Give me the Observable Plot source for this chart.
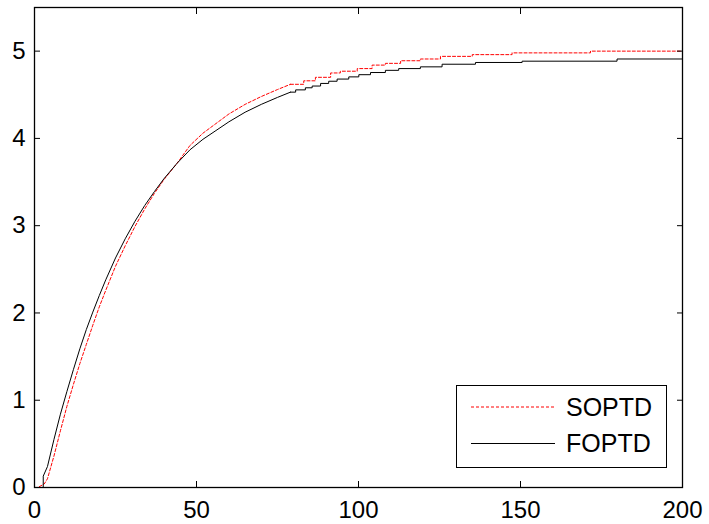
<!DOCTYPE html>
<html>
<head>
<meta charset="utf-8">
<script src="https://cdn.jsdelivr.net/npm/d3@7"></script>
<script src="https://cdn.jsdelivr.net/npm/@observablehq/plot@0.6"></script>
<style>
  body { margin: 0; background: #fff; }
  #wrap { position: relative; width: 709px; height: 524px; background: #fff; }
  #legend {
    position: absolute; left: 456px; top: 385px; width: 209px; height: 81px;
    border: 1px solid #000; background: #fff;
    font-family: "Liberation Sans", Arial, sans-serif; font-size: 25px; color: #000;
  }
  #legend .row { position: absolute; left: 0; width: 209px; height: 30px; }
  #legend svg { position: absolute; left: 14px; top: 0; }
  #legend span { position: absolute; left: 109px; top: 0; line-height: 30px; }
</style>
</head>
<body>
<div id="wrap">
  <div id="legend">
    <div class="row" style="top:6px">
      <svg width="84" height="30"><line x1="0" x2="84" y1="15" y2="15" stroke="#ff0000" stroke-width="1.2" stroke-dasharray="3,2"></line></svg>
      <span>SOPTD</span>
    </div>
    <div class="row" style="top:42px">
      <svg width="84" height="30"><line x1="0" x2="84" y1="15.5" y2="15.5" stroke="#000" stroke-width="1"></line></svg>
      <span>FOPTD</span>
    </div>
  </div>
</div>
<script>
// Tick values
const xTicks = [0, 50, 100, 150, 200];
const yTicks = [0, 1, 2, 3, 4, 5];

// FOPTD (black, solid) — rising part
const fopdtEarlyT = [0, 2.7, 2.7, 4, 6, 8, 10, 12, 14, 16, 18, 20, 22, 25, 28, 31, 34, 37, 40, 44, 48, 52, 56, 60, 65, 70, 75, 79];
const fopdtEarlyY = [0, 0, 0.13, 0.24, 0.55, 0.84, 1.10, 1.35, 1.59, 1.81, 2.01, 2.20, 2.38, 2.63, 2.85, 3.05, 3.23, 3.39, 3.54, 3.715, 3.87, 3.99, 4.09, 4.19, 4.30, 4.39, 4.47, 4.53];
// FOPTD — stair-stepped tail
const fopdtTailT = [79, 80.6, 83.6, 85.7, 88.3, 90.8, 93.4, 97.0, 100.1, 103.7, 108.3, 112.4, 119.1, 125.8, 136.1, 150.5, 179.8, 200];
const fopdtTailY = [4.53, 4.556, 4.58, 4.60, 4.63, 4.655, 4.68, 4.705, 4.73, 4.755, 4.78, 4.80, 4.82, 4.85, 4.87, 4.885, 4.91, 4.91];

// SOPTD (red, dashed) — rising part
const soptdEarlyT = [0, 1, 3, 4, 6, 8, 10, 12, 14, 16, 18, 20, 22, 25, 28, 31, 34, 37, 40, 44, 48, 52, 56, 60, 65, 70, 75, 79];
const soptdEarlyY = [0, 0, 0.04, 0.10, 0.36, 0.65, 0.93, 1.18, 1.42, 1.64, 1.86, 2.07, 2.26, 2.535, 2.77, 2.99, 3.19, 3.37, 3.53, 3.715, 3.92, 4.06, 4.17, 4.28, 4.39, 4.48, 4.56, 4.62];
// SOPTD — stair-stepped tail
const soptdTailT = [79, 83.1, 86.7, 91.4, 94.4, 99.6, 104.2, 108.3, 113, 119.1, 125.3, 135.1, 147.4, 171.6, 200];
const soptdTailY = [4.62, 4.66, 4.70, 4.75, 4.77, 4.80, 4.84, 4.86, 4.89, 4.91, 4.94, 4.96, 4.98, 5.00, 5.00];

const zip = (T, Y) => T.map((t, i) => ({t, v: Y[i]}));
const fopdtEarly = zip(fopdtEarlyT, fopdtEarlyY);
const fopdtTail = zip(fopdtTailT, fopdtTailY);
const soptdEarly = zip(soptdEarlyT, soptdEarlyY);
const soptdTail = zip(soptdTailT, soptdTailY);

const fmt = d => String(d);

const chart = Plot.plot({
  width: 709,
  height: 524,
  marginLeft: 34,
  marginRight: 27,
  marginTop: 7,
  marginBottom: 37,
  x: {domain: [0, 200], label: null},
  y: {domain: [0, 5.5], label: null},
  style: {
    fontFamily: '"Liberation Sans", Arial, sans-serif',
    fontSize: "24px",
    color: "#000",
    background: "#fff",
    overflow: "visible"
  },
  marks: [
    Plot.line(soptdEarly, {x: "t", y: "v", stroke: "#ff0000", strokeWidth: 1, strokeDasharray: "3,2"}),
    Plot.line(soptdTail, {x: "t", y: "v", curve: "step-after", stroke: "#ff0000", strokeWidth: 1, strokeDasharray: "3,2"}),
    Plot.line(fopdtEarly, {x: "t", y: "v", stroke: "#000", strokeWidth: 1}),
    Plot.line(fopdtTail, {x: "t", y: "v", curve: "step-after", stroke: "#000", strokeWidth: 1}),
    Plot.frame({stroke: "#000", strokeWidth: 1.3}),
    Plot.axisX(xTicks, {anchor: "bottom", tickSize: -6, tickPadding: 19, tickFormat: fmt, label: null}),
    Plot.axisY(yTicks, {anchor: "left", tickSize: -6, tickPadding: 15, tickFormat: fmt, label: null}),
    Plot.axisX(xTicks, {anchor: "top", tickSize: -6, tickFormat: () => "", label: null}),
    Plot.axisY(yTicks, {anchor: "right", tickSize: -6, tickFormat: () => "", label: null})
  ]
});
document.getElementById("wrap").prepend(chart);
</script>
</body>
</html>
